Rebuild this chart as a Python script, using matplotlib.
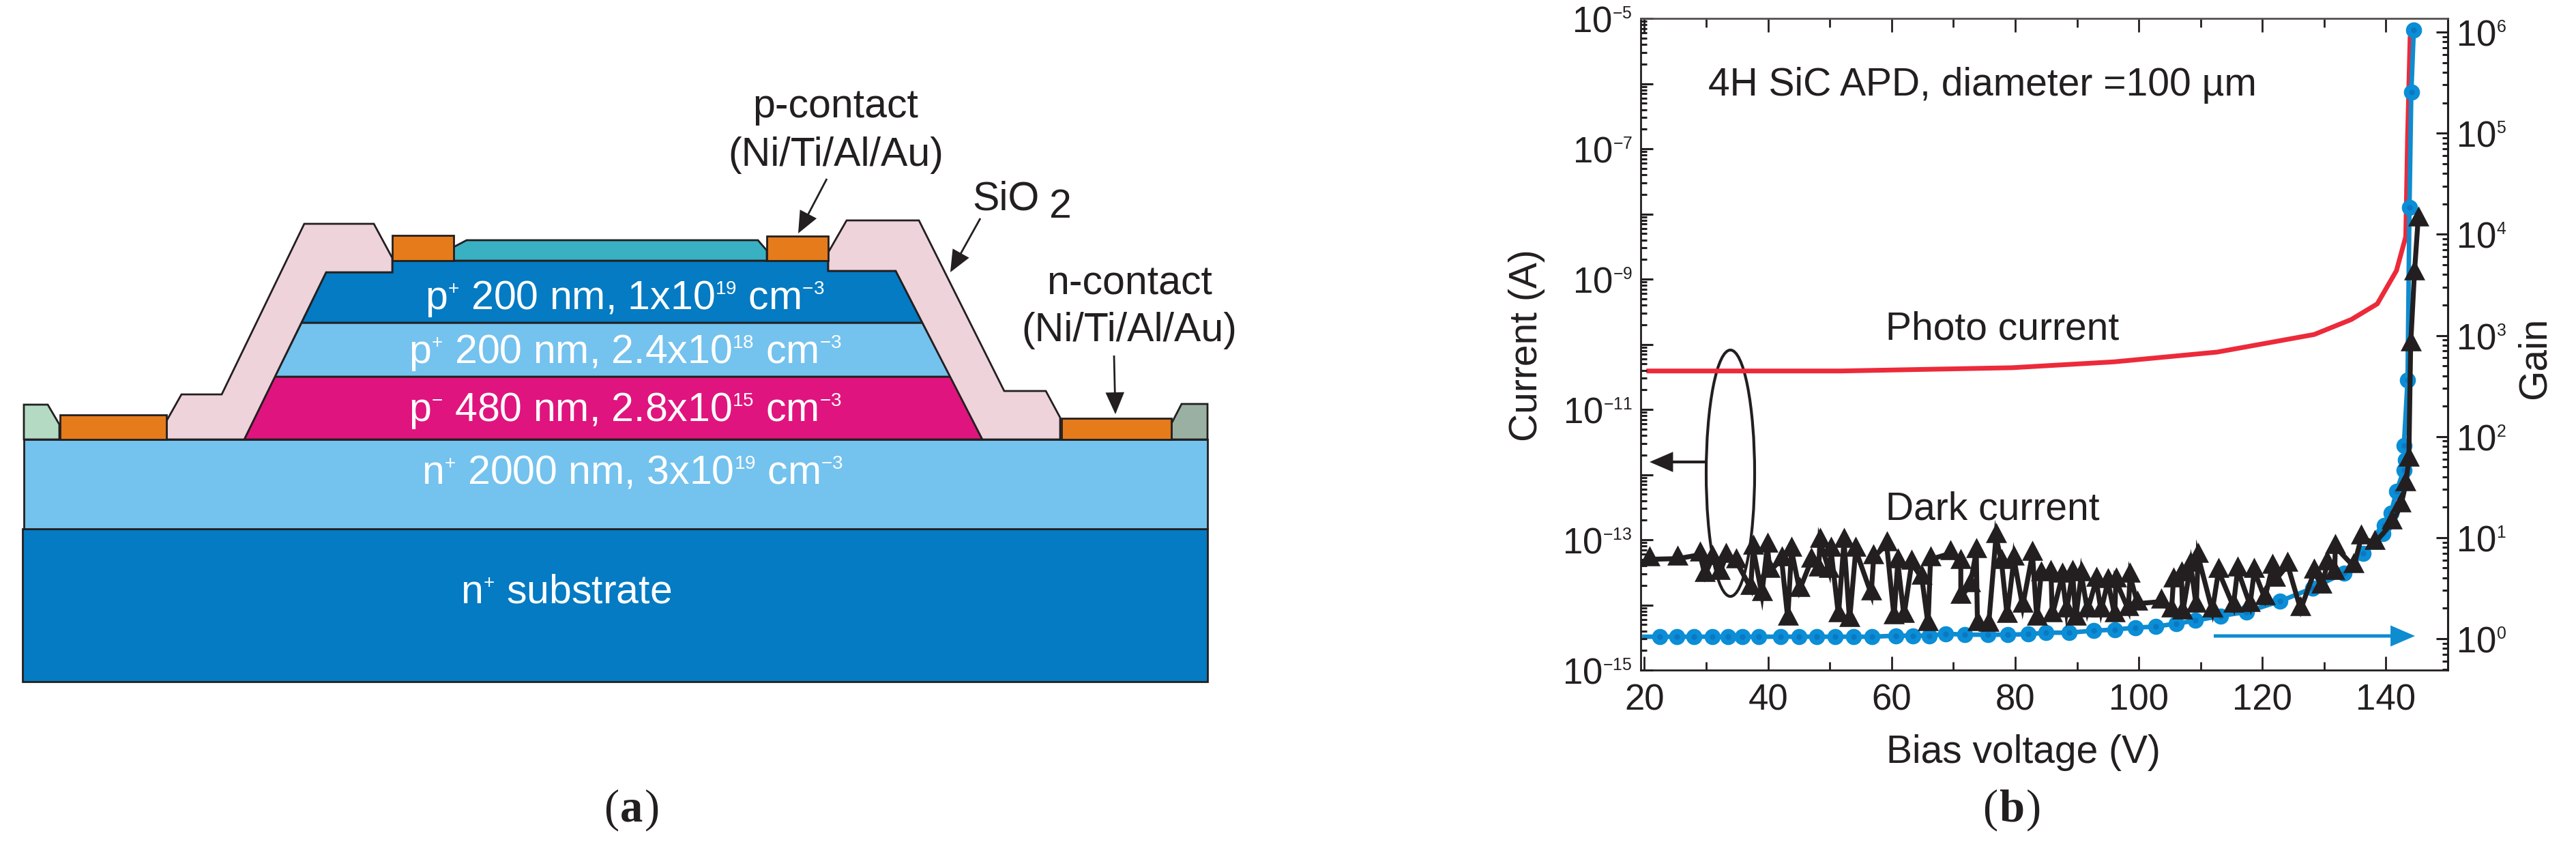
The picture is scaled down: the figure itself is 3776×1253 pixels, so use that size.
import matplotlib
matplotlib.use("Agg")
import matplotlib.pyplot as plt
import numpy as np
import matplotlib._mathtext as _mt
from matplotlib.patches import Polygon, Ellipse, FancyArrowPatch
from matplotlib.ticker import LogLocator, NullFormatter, FixedLocator

_mt.SHRINK_FACTOR = 0.47
plt.rcParams['font.family'] = ['Liberation Sans', 'DejaVu Sans']
plt.rcParams['mathtext.fontset'] = 'custom'
plt.rcParams['mathtext.rm'] = 'Liberation Sans'
plt.rcParams['mathtext.it'] = 'Liberation Sans:italic'
plt.rcParams['mathtext.bf'] = 'Liberation Sans:bold'
plt.rcParams['mathtext.default'] = 'regular'

INK = '#231F20'

# ---------- panel (b) data ----------
photo_v = [20.7, 51.9, 79.5, 96.0, 112.7, 122.6, 128.4, 134.4, 138.6, 141.7, 143.2, 143.3, 143.5, 143.9]
photo_log_i = [-10.41, -10.41, -10.36, -10.27, -10.12, -9.95, -9.85, -9.62, -9.38, -8.87, -8.35, -7.86, -6.81, -5.31]

gain_v = [22.5, 25.2, 28.0, 31.0, 33.5, 35.8, 38.5, 42.0, 45.0, 47.9, 50.9, 53.8, 56.8, 60.7, 63.4, 66.1,
          68.8, 71.8, 75.6, 78.8, 82.1, 85.0, 88.7, 92.7, 96.1, 99.4, 102.7, 106.1, 109.2, 113.2, 117.4,
          122.8, 128.1, 133.2, 136.3, 139.5, 139.7, 140.8, 141.7, 142.9, 143.2, 142.9, 143.5, 143.8, 144.1, 144.5]
gain_log = [0.02, 0.02, 0.02, 0.02, 0.02, 0.02, 0.02, 0.02, 0.02, 0.02, 0.02, 0.02, 0.02, 0.03, 0.03, 0.03,
            0.05, 0.04, 0.04, 0.04, 0.045, 0.06, 0.06, 0.08, 0.09, 0.11, 0.12, 0.15, 0.18, 0.225, 0.265,
            0.37, 0.50, 0.65, 0.845, 1.04, 1.12, 1.24, 1.46, 1.67, 1.77, 1.91, 2.56, 4.265, 5.405, 6.02]
blue_line_start = (20.0, 0.02)

dark_v = [20.8, 25.4, 29.0, 29.8, 31.0, 32.2, 33.2, 34.9, 37.2, 37.6, 39.0, 39.9, 40.3, 42.2, 43.2, 43.8, 45.1,
          47.0, 48.2, 48.4, 49.9, 50.2, 51.4, 52.3, 53.2, 54.2, 56.7, 57.1, 59.2, 60.4, 61.0, 62.0, 63.25, 64.9,
          65.9, 66.3, 69.5, 71.2, 71.2, 72.7, 73.7, 73.9, 75.7, 76.9, 77.8, 78.7, 79.8, 81.2, 82.8, 83.5, 84.2,
          85.8, 86.0, 87.6, 88.3, 89.3, 89.8, 90.7, 91.7, 93.1, 93.9, 95.0, 96.1, 96.3, 98.3, 98.6, 99.8, 103.6,
          105.3, 105.6, 106.9, 107.1, 108.4, 109.3, 109.6, 111.9, 112.9, 115.3, 116.0, 118.0, 118.7, 120.4,
          121.6, 122.1, 124.1, 126.2, 128.4, 129.6, 130.5, 131.7, 131.8, 134.8, 136.0, 138.2, 141.0, 142.4,
          143.2, 143.7, 144.0, 144.6, 145.2]
dark_log_i = [-13.30, -13.29, -13.23, -13.54, -13.28, -13.51, -13.25, -13.34, -13.74, -13.13, -13.84, -13.09, -13.48,
              -13.30, -14.21, -13.16, -13.77, -13.32, -13.46, -13.02, -13.48, -13.16, -14.16, -13.02, -14.24, -13.16,
              -13.83, -13.27, -13.07, -14.19, -13.34, -14.17, -13.36, -13.59, -14.30, -13.30, -13.21, -13.35, -13.88,
              -13.70, -13.18, -14.30, -14.31, -12.95, -13.35, -14.17, -13.29, -14.02, -13.22, -14.21, -13.53, -13.51,
              -14.16, -13.56, -14.09, -13.51, -14.21, -13.53, -14.09, -13.62, -14.09, -13.64, -14.16, -13.63, -14.07,
              -13.56, -13.98, -13.95, -14.09, -13.63, -13.53, -14.12, -13.39, -14.02, -13.25, -14.09, -13.48, -14.02,
              -13.46, -14.00, -13.48, -13.90, -13.42, -13.62, -13.39, -14.07, -13.49, -13.72, -13.37, -13.51, -13.11,
              -13.41, -12.97, -13.05, -12.74, -12.48, -12.15, -11.78, -10.00, -8.92, -8.09]

x_major = [20, 40, 60, 80, 100, 120, 140]
x_minor = [30, 50, 70, 90, 110, 130, 150]
left_major = [1e-15, 1e-14, 1e-13, 1e-12, 1e-11, 1e-10, 1e-9, 1e-8, 1e-7, 1e-6, 1e-5]
left_labels = ['10$^{-15}$', '', '10$^{-13}$', '', '10$^{-11}$', '', '10$^{-9}$', '', '10$^{-7}$', '', '10$^{-5}$']
right_major = [1, 10, 100, 1e3, 1e4, 1e5, 1e6]
right_labels = ['10$^{0}$', '10$^{1}$', '10$^{2}$', '10$^{3}$', '10$^{4}$', '10$^{5}$', '10$^{6}$']

# ---------- panel (a) schematic ----------
layers = [
    ('#047BC2', [(33, 775), (1770, 775), (1770, 999), (33, 999)]),
    ('#74C2EE', [(35, 644), (1770, 644), (1770, 775), (35, 775)]),
    ('#E0147E', [(358, 644), (403, 552), (1393, 552), (1440, 644)]),
    ('#74C2EE', [(403, 552), (442, 473), (1352, 473), (1393, 552)]),
    ('#047BC2', [(442, 473), (478, 399), (575, 399), (575, 382), (1214, 382), (1214, 397), (1313, 397), (1352, 473)]),
    ('#EED3DB', [(244, 644), (244, 617), (266, 578), (325, 578), (446, 328), (548, 328), (575, 378), (575, 399),
                 (478, 399), (358, 644)]),
    ('#EED3DB', [(1214, 397), (1214, 370), (1241, 323), (1347, 323), (1472, 573), (1533, 573), (1554, 612),
                 (1554, 644), (1440, 644), (1313, 397)]),
    ('#B4DAC4', [(35, 644), (35, 593), (70, 593), (87, 622), (87, 644)]),
    ('#9AB0A3', [(1717, 644), (1717, 621), (1732, 592), (1770, 592), (1770, 644)]),
    ('#E57B1A', [(88, 608), (244, 608), (244, 644), (88, 644)]),
    ('#E57B1A', [(1556, 613), (1717, 613), (1717, 644), (1556, 644)]),
    ('#3AB0C3', [(665, 382), (665, 362), (684, 352), (1111, 352), (1124, 367), (1124, 382)]),
    ('#E57B1A', [(575, 345), (665, 345), (665, 382), (575, 382)]),
    ('#E57B1A', [(1124, 346), (1214, 346), (1214, 382), (1124, 382)]),
]

W, H = 3776, 1253
fig = plt.figure(figsize=(W / 100, H / 100), dpi=100, facecolor='white')
ax0 = fig.add_axes([0, 0, 1, 1], zorder=0)
ax0.set_xlim(0, W)
ax0.set_ylim(H, 0)
ax0.axis('off')

for col, pts in layers:
    ax0.add_patch(Polygon(pts, closed=True, facecolor=col, edgecolor=INK, lw=2.0, joinstyle='miter'))

FS = 42.5
def t(x, y, s, ha='center', color=INK, fs=FS, **kw):
    return ax0.text(x, y, s, ha=ha, va='baseline', color=color, fontsize=fs, **kw)

t(916, 453, 'p$^{+}$ 200 nm, 1x10$^{19}$ cm$^{-3}$', color='white')
t(916, 532, 'p$^{+}$ 200 nm, 2.4x10$^{18}$ cm$^{-3}$', color='white')
t(916, 617, 'p$^{-}$ 480 nm, 2.8x10$^{15}$ cm$^{-3}$', color='white')
t(927, 708, 'n$^{+}$ 2000 nm, 3x10$^{19}$ cm$^{-3}$', color='white')
t(830, 884, 'n$^{+}$ substrate', color='white')
t(1225, 172, 'p-contact')
t(1225, 243, '(Ni/Ti/Al/Au)')
t(1655, 432, 'n-contact')
t(1655, 500, '(Ni/Ti/Al/Au)')
t(1425, 308, 'SiO', ha='left')
t(1538, 319, '2', ha='left')

def arrow(p0, p1, color=INK, lw=2.0, hl=6.5, hw=2.8):
    ax0.add_patch(FancyArrowPatch(p0, p1, arrowstyle=f'-|>,head_length={hl},head_width={hw}',
                                  mutation_scale=3.0, color=color, lw=lw, shrinkA=0, shrinkB=0,
                                  joinstyle='miter', capstyle='butt'))

arrow((1212, 262), (1170, 342))
arrow((1437, 320), (1393, 399))
arrow((1633, 521), (1635, 607))
arrow((2500, 677), (2418, 677), lw=3.0)
arrow((3245, 932), (3540, 932), color='#0E8CD0', lw=3.6)
ax0.add_patch(Ellipse((2536.5, 693.5), 71, 361, fill=False, edgecolor=INK, lw=3.0))

# panel captions, mixed upright and bold
rend = fig.canvas.get_renderer()
def runs(xc, y, parts):
    arts = [ax0.text(0, y, s, family='Liberation Serif', fontsize=48, weight=w, color=INK, va='baseline')
            for s, w in parts]
    ws = [a.get_window_extent(rend).width + 2 for a in arts]
    x = xc - sum(ws) / 2
    for a, w_ in zip(arts, ws):
        a.set_x(x)
        x += w_

runs(927, 1204, [('(', 'normal'), ('a', 'bold'), (')', 'normal')])
runs(2950, 1204, [('(', 'normal'), ('b', 'bold'), (')', 'normal')])

# ---------- panel (b) ----------
L, R, T, B = 2405, 3588, 27, 982
pos = [L / W, 1 - B / H, (R - L) / W, (B - T) / H]
ax_red = fig.add_axes(pos, zorder=1)
ax_gain = fig.add_axes(pos, zorder=2)
ax = fig.add_axes(pos, zorder=3)
xlim = (19.4, 150)
ylim_left = (1e-15, 1e-5)
ylim_right = (10 ** -0.31, 10 ** 6.135)

for a in (ax_red, ax_gain, ax):
    a.patch.set_visible(False)
    a.set_xlim(*xlim)
    a.set_yscale('log')
    a.set_xticks([])
    for s in a.spines.values():
        s.set_visible(False)
ax_red.set_ylim(*ylim_left)
ax.set_ylim(*ylim_left)
ax_gain.set_ylim(*ylim_right)
ax_red.tick_params(which='both', left=False, labelleft=False)

ax_red.plot(photo_v, 10 ** np.array(photo_log_i), color='#EC2A3A', lw=5.0, solid_joinstyle='round')

ax_gain.plot([blue_line_start[0]] + gain_v, 10 ** np.array([blue_line_start[1]] + gain_log),
             color='#0E8CD0', lw=4.8)
ax_gain.plot(gain_v, 10 ** np.array(gain_log), ls='none', marker='o', ms=17, mfc='#0B8ED6', mew=0)
ax_gain.plot(gain_v, 10 ** np.array(gain_log), ls='none', marker='o', ms=6, mfc='#0B78C4', mew=0)

tri = [(-0.5, -0.3), (0.5, -0.3), (0.0, 0.65)]
ax.plot(dark_v, 10 ** np.array(dark_log_i), color=INK, lw=5.2, marker=tri, ms=29, mfc=INK, mec=INK, mew=0,
        solid_joinstyle='miter')

# spines, ticks, labels
for side in ('left', 'bottom', 'top'):
    ax.spines[side].set_visible(True)
    ax.spines[side].set_color(INK)
    ax.spines[side].set_linewidth(2.0)
ax.spines['top'].set_color('#55514F')

ax.set_xticks(x_major)
ax.set_xticklabels([str(v) for v in x_major])
ax.xaxis.set_minor_locator(FixedLocator(x_minor[:-1]))
ax.tick_params(axis='x', which='major', direction='in', top=True, bottom=True, length=14.4, width=2.0,
               color=INK, labelsize=FS - 4.5, pad=14, labelcolor=INK)
ax.tick_params(axis='x', which='minor', direction='in', top=True, bottom=True, length=9, width=2.0, color=INK)

ax.set_yticks(left_major)
ax.set_yticklabels(left_labels)
ax.yaxis.set_minor_locator(LogLocator(base=10, subs=[2, 3, 4, 5, 6, 7, 8, 9], numticks=30))
ax.yaxis.set_minor_formatter(NullFormatter())
ax.tick_params(axis='y', which='major', direction='in', left=True, length=13, width=2.2, color=INK,
               labelsize=FS - 4.5, pad=9, labelcolor=INK)
ax.tick_params(axis='y', which='minor', direction='in', left=True, length=6.5, width=2.2, color=INK)

ax_gain.spines['right'].set_visible(True)
ax_gain.spines['right'].set_color(INK)
ax_gain.spines['right'].set_linewidth(2.2)
ax_gain.yaxis.tick_right()
ax_gain.set_yticks(right_major)
ax_gain.set_yticklabels(right_labels)
ax_gain.yaxis.set_minor_locator(LogLocator(base=10, subs=[2, 3, 4, 5, 6, 7, 8, 9], numticks=30))
ax_gain.yaxis.set_minor_formatter(NullFormatter())
ax_gain.tick_params(axis='y', which='major', direction='in', right=True, left=False, length=12.5, width=2.2,
                    color=INK, labelsize=FS - 4.5, pad=9, labelcolor=INK)
ax_gain.tick_params(axis='y', which='minor', direction='in', right=True, left=False, length=6, width=2.2, color=INK)

t(2966, 1118, 'Bias voltage (V)', fs=41)
ax0.text(2238, 506, 'Current (A)', rotation=90, ha='center', va='center', fontsize=41, color=INK)
ax0.text(3716, 525, 'Gain', rotation=90, ha='center', va='center', fontsize=41, color=INK)

t(2504, 140, '4H SiC APD, diameter =100 µm', ha='left', fs=41)
t(2935, 498, 'Photo current', fs=41)
t(2921, 761, 'Dark current', fs=41)

fig.savefig('out.png', dpi=100, facecolor='white')
